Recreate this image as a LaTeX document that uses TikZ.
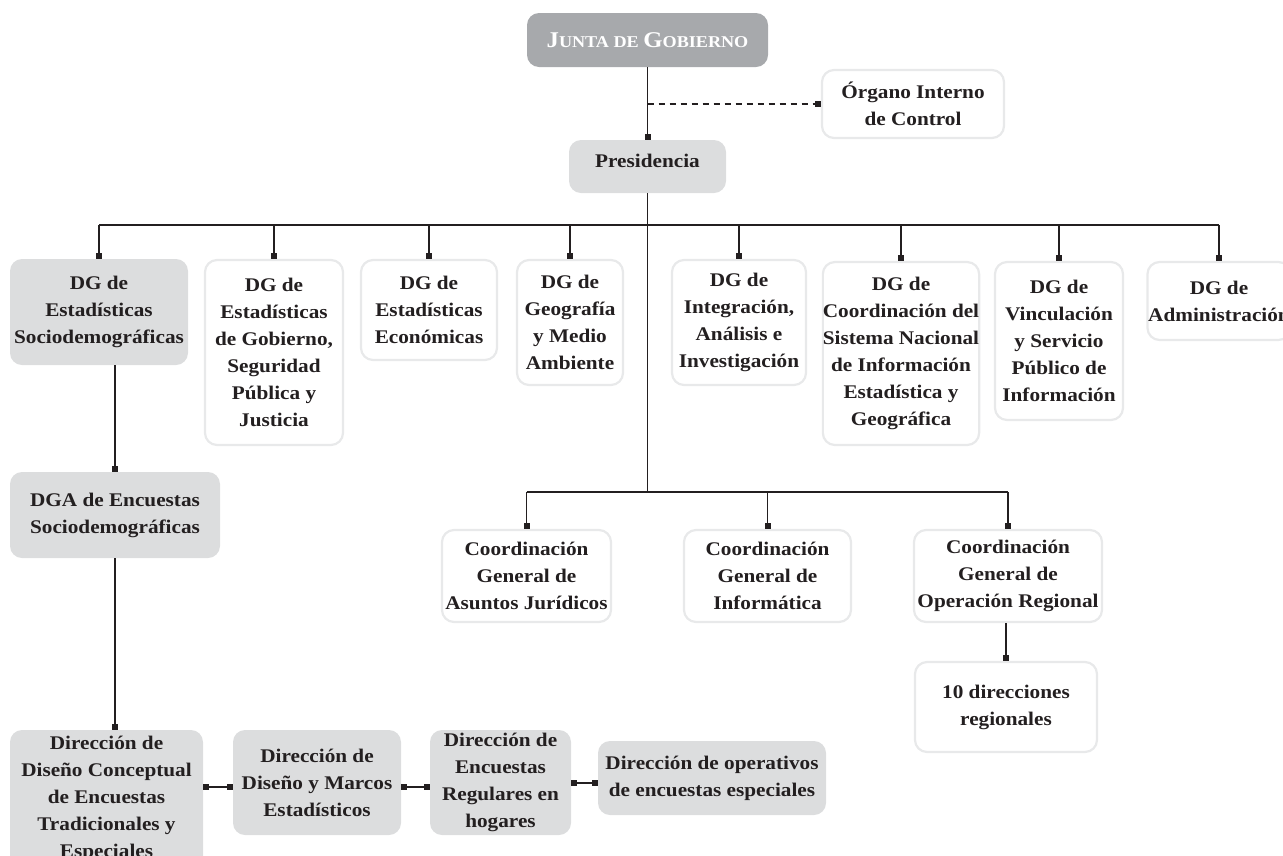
\documentclass[tikz,border=0pt]{standalone}
\usepackage{fontspec}
\setmainfont{Liberation Serif}[FakeStretch=1.1]
\usetikzlibrary{arrows.meta,calc}
\definecolor{txt}{HTML}{231F20}
\definecolor{boxgray}{HTML}{DCDDDE}
\definecolor{darkbox}{HTML}{A7A9AC}
\definecolor{edge}{HTML}{E8E9EA}
\begin{document}
\begin{tikzpicture}[x=1pt,y=-1pt,
  base/.style={rounded corners=12pt, align=center, text=txt, font=\bfseries\fontsize{19.3}{27}\selectfont, inner sep=0pt},
  graybox/.style={base, fill=boxgray},
  whitebox/.style={base, fill=white, draw=edge, line width=2.2pt},
  sq/.tip={Square[length=5.5pt,width=6pt]},
  conn/.style={draw=txt, line width=1.2pt, -sq},
  conn2/.style={draw=txt, line width=1.2pt, sq-sq},
  plain/.style={draw=txt, line width=1.2pt},
]
\useasboundingbox (0,0) rectangle (1283,855);
\clip (0,0) rectangle (1283,855);

% top
\node[base, fill=darkbox, text=white, font=\bfseries\fontsize{16.5}{16.5}\selectfont, minimum width=241pt, minimum height=54pt] (junta) at (647.5,40)
  {{\fontsize{22.5}{22.5}\selectfont J}UNTA DE {\fontsize{22.5}{22.5}\selectfont G}OBIERNO};
\node[whitebox, minimum width=182pt, minimum height=68pt] (organo) at (913,104) {Órgano Interno\\de Control};
\node[graybox, minimum width=157pt, minimum height=53pt, text depth=12pt] (pres) at (647.5,166.5) {Presidencia};

% DG row
\node[graybox, minimum width=178pt, minimum height=106pt] (dg1) at (99,312) {DG de\\Estadísticas\\Sociodemográficas};
\node[whitebox, minimum width=138pt, minimum height=185pt] (dg2) at (274,352.5) {DG de\\Estadísticas\\de Gobierno,\\Seguridad\\Pública y\\Justicia};
\node[whitebox, minimum width=136pt, minimum height=100pt] (dg3) at (429,310) {DG de\\Estadísticas\\Económicas};
\node[whitebox, minimum width=106pt, minimum height=125pt] (dg4) at (570,322.5) {DG de\\Geografía\\y Medio\\Ambiente};
\node[whitebox, minimum width=134pt, minimum height=125pt] (dg5) at (739,322.5) {DG de\\Integración,\\Análisis e\\Investigación};
\node[whitebox, minimum width=152pt, minimum height=183pt] (dg6) at (901,353.5) {DG de\\Coordinación del\\Sistema Nacional\\de Información\\Estadística y\\Geográfica};
\node[whitebox, minimum width=128pt, minimum height=158pt] (dg7) at (1059,341) {DG de\\Vinculación\\y Servicio\\Público de\\Información};
\node[whitebox, minimum width=143pt, minimum height=78pt] (dg8) at (1219,301) {DG de\\Administración};

% coordinaciones
\node[whitebox, minimum width=169pt, minimum height=92pt] (cj) at (526.5,576) {Coordinación\\General de\\Asuntos Jurídicos};
\node[whitebox, minimum width=167pt, minimum height=92pt] (ci) at (767.5,576) {Coordinación\\General de\\Informática};
\node[whitebox, minimum width=188pt, minimum height=92pt] (co) at (1008,576) {Coordinación\\General de\\Operación Regional};
\node[whitebox, minimum width=182pt, minimum height=90pt] (d10) at (1006,707) {10 direcciones\\regionales};

% sociodemograficas chain
\node[graybox, minimum width=210pt, minimum height=86pt] (dga) at (115,515) {DGA de Encuestas\\Sociodemográficas};
\node[graybox, minimum width=193pt, minimum height=138pt] (dc) at (106.5,799) {Dirección de\\Diseño Conceptual\\de Encuestas\\Tradicionales y\\Especiales};
\node[graybox, minimum width=168pt, minimum height=105pt] (dm) at (317,782.5) {Dirección de\\Diseño y Marcos\\Estadísticos};
\node[graybox, minimum width=141pt, minimum height=105pt] (dr) at (500.5,782.5) {Dirección de\\Encuestas\\Regulares en\\hogares};
\node[graybox, minimum width=228pt, minimum height=74pt] (dop) at (712,778) {Dirección de operativos\\de encuestas especiales};

% connectors
\coordinate (b1) at (647.5,225);
\coordinate (b2) at (647.5,492);
\coordinate (h1) at (0,787);
\coordinate (h2) at (0,783);

\draw[conn] (junta.south) -- (pres.north);
\draw[conn, dash pattern=on 6pt off 5pt] (junta.south |- organo.west) -- (organo.west);
\draw[plain] (pres.south) -- (b2);
\draw[plain] (dg1.north |- b1) -- (dg8.north |- b1);
\foreach \n in {dg1,dg2,dg3,dg4,dg5,dg6,dg7,dg8}
  \draw[conn] (\n.north |- b1) -- (\n.north);
\draw[plain] (cj.north |- b2) -- (co.north |- b2);
\foreach \n in {cj,ci,co}
  \draw[conn] (\n.north |- b2) -- (\n.north);
\draw[conn] (d10.north |- co.south) -- (d10.north);
\draw[conn] (dga.north |- dg1.south) -- (dga.north);
\draw[conn] (dga.south) -- (dga.south |- dc.north);
\draw[conn2] (dc.east |- h1) -- (dm.west |- h1);
\draw[conn2] (dm.east |- h1) -- (dr.west |- h1);
\draw[conn2] (dr.east |- h2) -- (dop.west |- h2);
\end{tikzpicture}
\end{document}
